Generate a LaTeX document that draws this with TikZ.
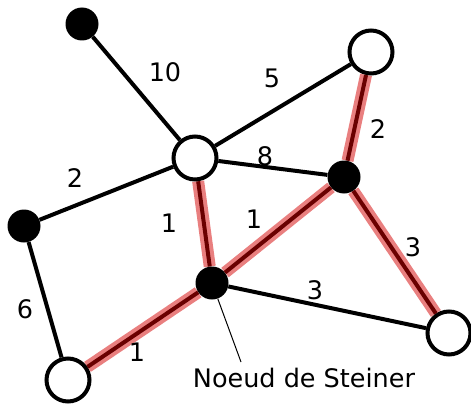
\documentclass[tikz,border=0pt]{standalone}
\usepackage{fontspec}
\setmainfont{DejaVu Sans}
\begin{document}
\begin{tikzpicture}
  [x=1pt,y=-1pt,every node/.style={circle,inner sep=0pt},
   term/.style={draw,line width=4pt,fill=white,minimum size=43pt},
   inner/.style={fill=black,minimum size=33pt},
   edge/.style={line width=4pt},
   tree/.style={line width=12pt,draw={rgb,255:red,212;green,0;blue,0},opacity=0.5},
   weight/.style={font=\fontsize{25.5}{30}\selectfont}]
  \useasboundingbox (0,0) rectangle (471,404);
  \node (n1)[inner] at (82,24) {};
  \node (n2)[term] at (371,52) {};
  \node (n3)[term] at (195,158) {};
  \node (n4)[inner] at (344,177) {};
  \node (n5)[inner] at (24,226) {};
  \node (n6)[inner] at (212,283) {};
  \node (n7)[term] at (449,333) {};
  \node (n8)[term] at (68,380) {};
 \foreach \from/\to in {n1/n3,n3/n2,n3/n4,n5/n3,n5/n8,n6/n7,n3/n6,n6/n4,n4/n2,n4/n7,n6/n8}
    \draw[edge] (\from) -- (\to);
 % arbre de Steiner
 \foreach \from/\to in {n3/n6,n6/n4,n4/n2,n4/n7,n6/n8}
    \draw[tree] (\from) -- (\to);
  % poids
  \node (w1)[weight] at (165,72) {10};
  \node (w2)[weight] at (272,78) {5};
  \node (w3)[weight] at (265,156) {8};
  \node (w4)[weight] at (378,129) {2};
  \node (w5)[weight] at (75,178) {2};
  \node (w6)[weight] at (169,223) {1};
  \node (w7)[weight] at (254,219) {1};
  \node (w8)[weight] at (413,247) {3};
  \node (w9)[weight] at (315,290) {3};
  \node (w10)[weight] at (25,309) {6};
  \node (w11)[weight] at (137,352) {1};
  \coordinate (tip) at (241,362);
  \draw[line width=1pt] (n6) -- (tip);
  \node (lbl)[weight,anchor=base] at (304,387) {Noeud de Steiner};
\end{tikzpicture}
\end{document}
